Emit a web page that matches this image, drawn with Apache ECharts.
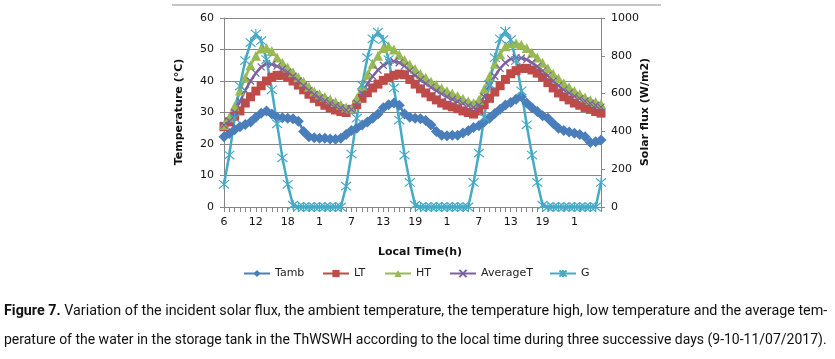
<!DOCTYPE html>
<html>
<head>
<meta charset="utf-8">
<script src="https://cdn.jsdelivr.net/npm/echarts@6/dist/echarts.min.js"></script>
<style>
html,body{margin:0;padding:0;background:#fff;}
#chart{position:absolute;left:0;top:0;width:835px;height:359px;}
.cap{position:absolute;left:4px;white-space:nowrap;font-family:"Roboto","Liberation Sans",sans-serif;font-size:14.5px;color:#111;transform-origin:0 50%;}
.cap b{font-weight:bold;}
</style>
</head>
<body>
<div id="chart"></div>
<div class="cap" id="cap1" style="top:302px"><b>Figure 7.</b> Variation of the incident solar flux, the ambient temperature, the temperature high, low temperature and the average tem-</div>
<div class="cap" id="cap2" style="top:331px">perature of the water in the storage tank in the ThWSWH according to the local time during three successive days (9-10-11/07/2017).</div>
<script>
// Local time (h) categories, three successive days
var hours = [6,7,8,9,10,11,12,13,14,15,16,17,18,19,20,21,22,23,
  1,2,3,4,5,6,7,8,9,10,11,12,13,14,15,16,17,18,19,20,21,22,23,24,
  1,2,3,4,5,6,7,8,9,10,11,12,13,14,15,16,17,18,19,20,21,22,23,24,
  1,2,3,4,5,6];

var tamb = [22.3,23.3,24.5,25.5,26.2,27.0,28.5,29.8,30.5,29.5,28.5,28.3,28.2,28.0,27.2,24.0,22.3,22.0,
  21.8,21.8,21.6,21.5,21.8,23.0,24.3,25.0,26.0,27.0,28.2,29.5,31.5,32.5,33.0,32.3,29.5,28.5,28.2,28.0,27.5,26.0,24.0,22.8,
  22.6,22.8,22.8,23.5,24.2,25.2,25.8,27.0,28.2,29.7,31.0,32.4,33.2,34.2,35.0,33.0,31.5,30.3,29.0,28.2,26.5,25.0,24.3,23.8,
  23.4,23.0,22.3,20.5,20.7,21.3];

var lt = [25.5,27.0,28.8,30.5,33.0,35.0,36.8,38.5,40.0,41.2,41.8,41.8,41.2,40.0,38.7,37.2,35.8,34.5,
  33.4,32.3,31.5,30.8,30.3,30.0,31.0,32.5,34.5,36.3,37.8,39.0,40.2,41.0,41.8,42.2,42.0,40.5,39.0,37.5,36.2,35.0,34.0,33.0,
  32.3,31.8,31.2,30.5,30.0,29.5,30.5,32.5,34.5,36.5,38.5,40.5,42.3,43.3,44.0,44.0,43.5,42.5,41.2,39.5,37.8,36.2,35.0,34.0,
  33.0,32.3,31.6,31.0,30.3,29.8];

var ht = [26.0,28.5,32.0,37.0,41.0,45.0,48.0,50.3,50.5,49.5,47.5,45.8,44.3,42.8,41.2,39.8,38.2,36.7,
  35.8,35.0,34.2,33.3,32.5,31.6,31.3,34.5,38.5,42.0,45.5,48.0,50.5,51.0,50.0,48.3,46.7,45.2,43.8,42.3,41.0,39.8,38.7,37.7,
  36.8,36.0,35.2,34.4,33.6,33.0,34.0,37.5,41.5,45.5,48.5,51.0,52.0,52.0,51.5,50.5,49.0,47.5,45.8,44.0,42.3,40.8,39.3,38.0,
  36.8,35.8,34.8,34.0,33.3,32.7];

var avgT = [26.0,27.3,30.0,33.5,37.0,40.0,42.5,44.5,45.5,45.3,44.7,43.8,42.8,41.5,40.0,38.5,37.0,35.7,
  34.6,33.7,33.0,32.2,31.5,30.8,31.0,33.0,36.0,39.0,41.5,43.5,45.0,46.0,46.3,45.8,44.8,43.3,41.8,40.4,39.2,38.0,36.9,35.9,
  35.0,34.2,33.5,32.8,32.2,31.6,32.3,35.0,38.5,41.5,44.0,45.8,47.0,47.4,47.3,46.8,45.8,44.6,43.2,41.7,40.0,38.5,37.2,36.2,
  35.2,34.4,33.6,32.9,32.3,31.7];

var gFlux = [120,275,470,640,775,870,915,880,780,620,440,260,120,10,0,0,0,0,
  0,0,0,0,0,110,280,470,645,790,890,925,885,780,630,460,275,130,10,0,0,0,0,0,
  0,0,0,0,0,130,285,475,650,790,890,930,885,775,615,435,275,130,10,0,0,0,0,0,
  0,0,0,0,0,130];

var FONT = '"DejaVu Sans", Verdana, sans-serif';
var AX = '#868686';
var X_PATH = 'path://M0,0L10,10M10,0L0,10';
var STAR_PATH = 'path://M0,0L10,10M10,0L0,10M5,-1L5,11';

var chart = echarts.init(document.getElementById('chart'), null, {renderer:'canvas'});

function lineSeries(name, data, color, symbol, size, yIdx, stroke) {
  return {
    name: name, type: 'line', data: data, yAxisIndex: yIdx || 0,
    symbol: symbol, symbolSize: size, showAllSymbol: true,
    lineStyle: {color: color, width: 2.5},
    itemStyle: stroke ? {color: 'rgba(0,0,0,0)', borderColor: color, borderWidth: 1.2} : {color: color},
    emphasis: {disabled: true},
    z: 2
  };
}

var legendDefs = [
  {name:'Tamb', left:243},
  {name:'LT', left:322},
  {name:'HT', left:384},
  {name:'AverageT', left:449},
  {name:'G', left:549}
];

var option = {
  animation: false,
  backgroundColor: '#fff',
  textStyle: {fontFamily: FONT},
  grid: {left: 224, right: 234, top: 18, bottom: 152, containLabel: false},
  legend: legendDefs.map(function(d){
    return {data:[d.name], left:d.left, top:268, padding:0, itemWidth:26, itemHeight:9, itemGap:0,
      textStyle:{fontFamily:FONT, fontSize:11, color:'#222'}, selectedMode:false};
  }),
  xAxis: {
    type: 'category', data: hours, boundaryGap: false,
    axisLine: {lineStyle: {color: AX, width: 1}},
    axisTick: {show: true, interval: 0, length: 5, lineStyle: {color: AX}},
    axisLabel: {interval: 5, margin: 10, fontSize: 11, color: '#111', fontFamily: FONT},
    splitLine: {show: false}
  },
  yAxis: [
    {type: 'value', min: 0, max: 60, interval: 10,
      axisLine: {show: true, lineStyle: {color: AX}},
      axisTick: {show: true, length: 4, lineStyle: {color: AX}},
      axisLabel: {margin: 10, fontSize: 11, color: '#111', fontFamily: FONT},
      splitLine: {show: true, lineStyle: {color: AX, width: 1}}
    },
    {type: 'value', min: 0, max: 1000, interval: 200, position: 'right',
      axisLine: {show: true, lineStyle: {color: AX}},
      axisTick: {show: true, length: 4, lineStyle: {color: AX}},
      axisLabel: {margin: 10, fontSize: 11, color: '#111', fontFamily: FONT,
        formatter: function(v){ return String(v); }},
      splitLine: {show: false}
    }
  ],
  series: [
    lineSeries('Tamb', tamb, '#4A7EBB', 'diamond', 11, 0),
    lineSeries('LT', lt, '#BE4B48', 'rect', 9, 0),
    lineSeries('HT', ht, '#98B954', 'triangle', 10, 0),
    lineSeries('AverageT', avgT, '#7D60A0', X_PATH, 7, 0, true),
    lineSeries('G', gFlux, '#46AAC5', STAR_PATH, 10, 1, true)
  ],
  graphic: [
    {type:'line', shape:{x1:172, y1:5, x2:661, y2:5}, style:{stroke:'#c6c6c6', lineWidth:2}, silent:true},
    {type:'text', x:179, y:112, rotation:Math.PI/2,
      style:{text:'Temperature (°C)', font:'bold 11px '+FONT, fill:'#111', align:'center', verticalAlign:'middle'}},
    {type:'text', x:645, y:112, rotation:Math.PI/2,
      style:{text:'Solar flux (W/m2)', font:'bold 11px '+FONT, fill:'#111', align:'center', verticalAlign:'middle'}},
    {type:'text', x:420, y:252,
      style:{text:'Local Time(h)', font:'bold 11px '+FONT, fill:'#111', align:'center', verticalAlign:'middle'}}
  ]
};
chart.setOption(option);

// fit caption lines to the page width
['cap1','cap2'].forEach(function(id){
  var el = document.getElementById(id);
  var w = el.offsetWidth;
  el.style.transform = 'scaleX(' + (823 / w) + ')';
});
</script>
</body>
</html>
